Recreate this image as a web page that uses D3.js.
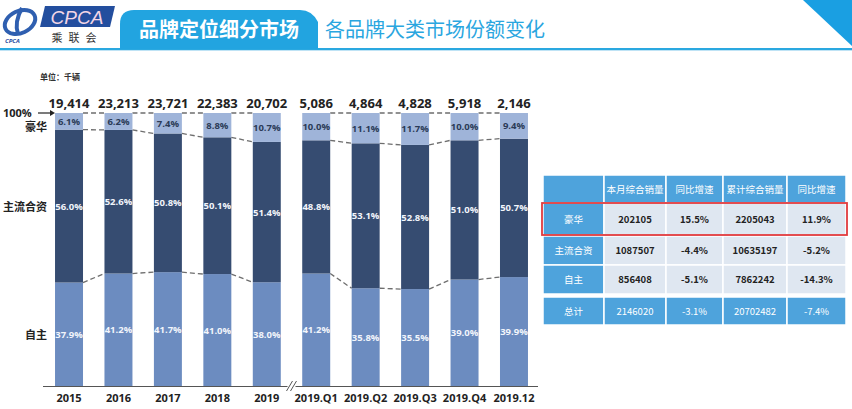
<!DOCTYPE html>
<html><head><meta charset="utf-8">
<script src="https://cdn.jsdelivr.net/npm/d3@7"></script>
<style>
body{margin:0;background:#fff;}
svg{display:block;font-family:"Open Sans","Noto Sans CJK SC",sans-serif;}
</style></head>
<body><svg id="c" width="852" height="409"></svg>
<script>
const categories=["2015","2016","2017","2018","2019","2019.Q1","2019.Q2","2019.Q3","2019.Q4","2019.12"];
const totals=["19,414","23,213","23,721","22,383","20,702","5,086","4,864","4,828","5,918","2,146"];
const selfBrand=[37.9,41.2,41.7,41.0,38.0,41.2,35.8,35.5,39.0,39.9];
const mainstream=[56.0,52.6,50.8,50.1,51.4,48.8,53.1,52.8,51.0,50.7];
const luxury=[6.1,6.2,7.4,8.8,10.7,10.0,11.1,11.7,10.0,9.4];
const groups=[[0,1,2,3,4],[5,6,7,8,9]];
const tableHead=["","本月综合销量","同比增速","累计综合销量","同比增速"];
const tableRows=["豪华","主流合资","自主","总计"];
const tableMonth=["202105","1087507","856408","2146020"];
const tableMonthYoY=["15.5%","-4.4%","-5.1%","-3.1%"];
const tableCum=["2205043","10635197","7862242","20702482"];
const tableCumYoY=["11.9%","-5.2%","-14.3%","-7.4%"];

const svg=d3.select("#c");
const C={lux:"#9fb4d9",main:"#364c71",self:"#6c8cc0",blue:"#22a4e0",tbl:"#4ea3dc",cell:"#dfe7f1"};

// ---------- header ----------
svg.append("path").attr("d","M803,0 L852,0 L852,46 Z").attr("fill","#1a9fe2");
svg.append("rect").attr("x",0).attr("y",48).attr("width",852).attr("height",2).attr("fill","#2aa8e0");
svg.append("rect").attr("x",0).attr("y",50).attr("width",852).attr("height",1).attr("fill","#bfe3f5");
svg.append("path").attr("d","M120,49 L120,24 Q120,10 134,10 L300,10 Q312,10 318,22 L318,49 Z").attr("fill",C.blue);
svg.append("text").attr("x",219).attr("y",37).attr("text-anchor","middle").attr("fill","#fff")
  .attr("font-size",20).attr("font-weight","bold").attr("font-family","Noto Sans CJK SC").text("品牌定位细分市场");
svg.append("text").attr("x",325).attr("y",37).attr("fill","#2aa6df")
  .attr("font-size",20).attr("font-family","Noto Sans CJK SC").text("各品牌大类市场份额变化");
// logo
const lg=svg.append("g");
lg.append("ellipse").attr("cx",20).attr("cy",22).attr("rx",16).attr("ry",11).attr("fill","none").attr("stroke","#2f5fb0").attr("stroke-width",4).attr("transform","rotate(-25,20,22)");
lg.append("path").attr("d","M22,8 Q14,22 18,34").attr("fill","none").attr("stroke","#2f5fb0").attr("stroke-width",4);
lg.append("text").attr("x",5).attr("y",43).attr("font-size",6).attr("font-style","italic").attr("font-weight","bold").attr("fill","#1f4aa0").text("CPCA");
lg.append("path").attr("d","M45,6 L115,6 L110,27 L40,27 Z").attr("fill","#234e9e");
lg.append("text").attr("x",77).attr("y",24).attr("text-anchor","middle").attr("font-size",19).attr("font-style","italic").attr("fill","#f2d6e6").attr("font-family","Liberation Sans").text("CPCA");
lg.append("text").attr("x",77).attr("y",42).attr("text-anchor","middle").attr("font-size",11).attr("fill","#333").attr("letter-spacing",6).attr("font-family","Noto Sans CJK SC").text("乘联会");

// ---------- chart ----------
const x=d3.scaleBand().domain(categories).range([44.3,538.7]).paddingInner(0.434).paddingOuter(0.217);
const y=d3.scaleLinear().domain([0,100]).range([386,113]);
const bw=x.bandwidth();

const stacks=categories.map((c,i)=>{
  const s0=0,s1=selfBrand[i],m1=s1+mainstream[i],l1=100;
  return {c,i,segs:[
    {k:"self",y0:s0,y1:s1,v:selfBrand[i]},
    {k:"main",y0:s1,y1:m1,v:mainstream[i]},
    {k:"lux",y0:m1,y1:l1,v:luxury[i]}]};
});

// dashed connectors
const dash=svg.append("g").attr("stroke","#6e6e6e").attr("stroke-width",1.3).attr("stroke-dasharray","5,3").attr("fill","none");
groups.forEach(g=>{
  for(let j=0;j<g.length-1;j++){
    const a=stacks[g[j]],b=stacks[g[j+1]];
    [0,1,2].forEach(s=>{
      dash.append("line")
        .attr("x1",x(a.c)+bw).attr("y1",y(a.segs[s].y1))
        .attr("x2",x(b.c)).attr("y2",y(b.segs[s].y1));
    });
  }
});

const bars=svg.append("g").selectAll("g").data(stacks).join("g");
bars.selectAll("rect").data(d=>d.segs.map(s=>({...s,c:d.c}))).join("rect")
  .attr("x",d=>x(d.c)).attr("width",bw)
  .attr("y",d=>y(d.y1)).attr("height",d=>y(d.y0)-y(d.y1))
  .attr("fill",d=>C[d.k]);
bars.selectAll("text.p").data(d=>d.segs.map(s=>({...s,c:d.c}))).join("text").attr("class","p")
  .attr("x",d=>x(d.c)+bw/2).attr("y",d=>(y(d.y0)+y(d.y1))/2+3.5)
  .attr("text-anchor","middle").attr("font-size",9.5).attr("font-weight","bold")
  .attr("fill",d=>d.k==="lux"?"#2b3b57":"#f2f5fb")
  .text(d=>d.v.toFixed(1)+"%");

// totals
svg.append("g").selectAll("text").data(categories).join("text")
  .attr("x",d=>x(d)+bw/2).attr("y",108).attr("text-anchor","middle")
  .attr("font-size",13).attr("font-weight","bold").attr("fill","#222")
  .text((d,i)=>totals[i]);

// axis
const ax=svg.append("g").attr("transform","translate(0,386)");
ax.call(d3.axisBottom(x).tickSize(0).tickPadding(8));
ax.select(".domain").attr("d","M43,0.5H538").attr("stroke","#555").attr("stroke-width",1.2);
ax.selectAll("text").attr("font-size",11).attr("font-weight","bold").attr("fill","#222").attr("font-family","Open Sans");
// break mark
const bx=(x("2019")+bw+x("2019.Q1"))/2;
svg.append("rect").attr("x",bx-4).attr("y",383).attr("width",8).attr("height",6).attr("fill","#fff");
[-2,2].forEach(o=>svg.append("line").attr("x1",bx+o-3).attr("y1",391).attr("x2",bx+o+3).attr("y2",381).attr("stroke","#555").attr("stroke-width",1));

// left labels
svg.append("text").attr("x",40).attr("y",80).attr("font-size",8).attr("font-weight","bold").attr("fill","#333").attr("font-family","Noto Sans CJK SC").text("单位：千辆");
svg.append("text").attr("x",3).attr("y",117).attr("font-size",11).attr("font-weight","bold").attr("fill","#222").text("100%");
svg.append("line").attr("x1",38).attr("y1",113).attr("x2",50).attr("y2",113).attr("stroke","#222").attr("stroke-width",1.2);
svg.append("path").attr("d","M50,110 L55,113 L50,116 Z").attr("fill","#222");
const lab=[["豪华",127],["主流合资",207],["自主",335]];
lab.forEach(([t,yy])=>svg.append("text").attr("x",47).attr("y",yy+4).attr("text-anchor","end")
  .attr("font-size",11).attr("font-weight","bold").attr("fill","#222").attr("font-family","Noto Sans CJK SC").text(t));

// ---------- table ----------
const colX=[543,604,666,723,787,846];
const rowY=[175,203,236,265,297];
const rowH=[28,32,29,29,28];
const tg=svg.append("g").attr("font-family","Noto Sans CJK SC");
const cellsData=[];
tableHead.forEach((h,j)=>cellsData.push({r:0,c:j,t:h,head:true}));
tableRows.forEach((rname,i)=>{
  const vals=[rname,tableMonth[i],tableMonthYoY[i],tableCum[i],tableCumYoY[i]];
  vals.forEach((v,j)=>cellsData.push({r:i+1,c:j,t:v,head:(j===0||i===3)}));
});
tg.selectAll("rect").data(cellsData).join("rect")
  .attr("x",d=>colX[d.c]).attr("y",d=>rowY[d.r])
  .attr("width",d=>colX[d.c+1]-colX[d.c]).attr("height",d=>rowH[d.r])
  .attr("fill",d=>d.head?C.tbl:C.cell).attr("stroke","#fff").attr("stroke-width",1.5);
tg.selectAll("text").data(cellsData).join("text")
  .attr("x",d=>(colX[d.c]+colX[d.c+1])/2).attr("y",d=>rowY[d.r]+rowH[d.r]/2+3.5)
  .attr("text-anchor","middle").attr("font-size",9.5)
  .attr("font-weight",d=>d.head?"normal":"bold")
  .attr("fill",d=>d.head?"#fff":"#222")
  .text(d=>d.t);
// red highlight
svg.append("rect").attr("x",542).attr("y",203).attr("width",305).attr("height",32)
  .attr("fill","none").attr("stroke","#e03a3e").attr("stroke-width",1.8);
</script></body></html>
